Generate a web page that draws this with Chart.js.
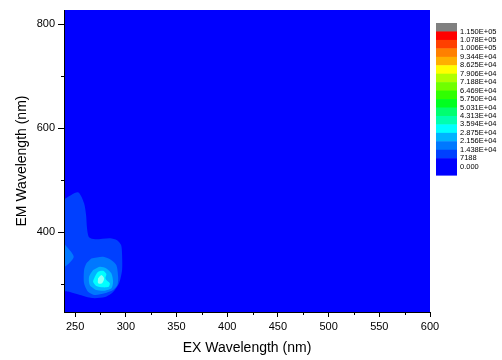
<!DOCTYPE html>
<html>
<head>
<meta charset="utf-8">
<script src="https://cdn.jsdelivr.net/npm/chart.js@4.4.1/dist/chart.umd.min.js"></script>
<style>
  html, body { margin: 0; padding: 0; background: #fff; }
</style>
</head>
<body>
<canvas id="eem" width="502" height="360"></canvas>
<script>
// axis ranges and ticks (nm)
const exRange = [239, 600];
const emRange = [247, 827];
const exTicks = [250, 275, 300, 325, 350, 375, 400, 425, 450, 475, 500, 525, 550, 575, 600];
const emTicks = [300, 400, 500, 600, 700, 800];

// contour outlines, [ex, em] pairs, outer level first
const level1 = [[239, 463.5], [252.8, 476.9], [258.8, 455.8], [260.8, 432.8], [261.7, 407.9], [263.7, 390.7],
  [269.6, 386.8], [284.5, 388.8], [291.4, 384.9], [295.4, 375.4], [296.3, 356.2], [296.3, 327.5],
  [293.4, 302.6], [287.4, 285.3], [279.5, 275.7], [266.7, 273.8], [254.8, 279.6], [244.9, 285.3], [239, 289.1]];
const level2Edge = [[239, 379.2], [248.6, 352.9], [239, 333.8]];
const level2 = [[266.0, 349.9], [277.6, 352.9], [285.8, 346.6], [290.7, 337.0], [292.4, 314.6], [291.7, 298.7],
  [287.4, 289.1], [279.2, 282.8], [269.4, 279.6], [262.7, 285.9], [258.8, 302.0], [258.8, 327.5], [261.0, 340.3]];
const level3 = [[267.7, 327.5], [274.3, 333.8], [280.8, 330.7], [285.8, 321.1], [287.4, 305.0], [285.8, 292.4],
  [279.2, 287.8], [270.9, 289.1], [264.4, 298.7], [263.7, 314.6]];
const level4 = [[269.4, 314.6], [272.6, 324.2], [277.6, 326.1], [280.8, 319.8], [279.8, 311.6], [281.8, 306.4],
  [284.2, 302.0], [283.2, 295.5], [277.6, 294.3], [270.9, 296.8], [267.7, 305.0]];
const level5 = [[272.6, 311.6], [275.9, 317.9], [278.6, 311.6], [276.6, 302.0], [272.6, 302.0]];

// colour scale labels, top to bottom
const scaleLabels = ['1.150E+05', '1.078E+05', '1.006E+05', '9.344E+04', '8.625E+04', '7.906E+04', '7.188E+04',
  '6.469E+04', '5.750E+04', '5.031E+04', '4.313E+04', '3.594E+04', '2.875E+04', '2.156E+04', '1.438E+04',
  '7188', '0.000'];
const scaleColors = ['#808080', '#FF0000', '#FF4000', '#FF8000', '#FFB000', '#FFFF00', '#B0FF00', '#70FF00',
  '#30FF00', '#00FF20', '#00FF70', '#00FFB0', '#00FFFF', '#00B4FF', '#0078FF', '#0040FF', '#0000FF', '#0000FF'];

const baseColor = '#0000FF';
const contours = [
  { pts: level1, color: '#0040FF' },
  { pts: level2Edge, color: '#0078FF' },
  { pts: level2, color: '#0078FF' },
  { pts: level3, color: '#00B4FF' },
  { pts: level4, color: '#00FFFF' },
  { pts: level5, color: '#8CFFF5' }
];

const font = "'Liberation Sans', Arial, sans-serif";

const eemPlugin = {
  id: 'eem',
  beforeDraw(chart) {
    const { ctx, chartArea: a } = chart;
    ctx.save();
    ctx.fillStyle = baseColor;
    ctx.fillRect(a.left, a.top, a.right - a.left, a.bottom - a.top);
    ctx.restore();
  },
  afterDraw(chart) {
    const { ctx } = chart;
    const xs = chart.scales.x, ys = chart.scales.y;
    ctx.save();
    // minor ticks
    ctx.strokeStyle = '#000';
    ctx.lineWidth = 1;
    ctx.beginPath();
    exTicks.filter(v => v % 50).forEach(v => {
      const px = Math.round(xs.getPixelForValue(v)) + 0.5;
      ctx.moveTo(px, ys.bottom);
      ctx.lineTo(px, ys.bottom + 3);
    });
    emTicks.filter(v => v % 200).forEach(v => {
      const py = Math.round(ys.getPixelForValue(v)) + 0.5;
      ctx.moveTo(xs.left, py);
      ctx.lineTo(xs.left - 3, py);
    });
    ctx.stroke();

    // colour bar
    const left = 436, width = 21, top = 23, h = 8.45;
    scaleColors.forEach((c, i) => {
      ctx.fillStyle = c;
      ctx.fillRect(left, top + i * h, width, h + 0.5);
    });
    ctx.fillStyle = '#000';
    ctx.font = '7.5px ' + font;
    ctx.textBaseline = 'middle';
    ctx.textAlign = 'left';
    scaleLabels.forEach((t, i) => {
      ctx.fillText(t, 460, top + (i + 1) * h);
    });
    ctx.restore();
  }
};

const chart = new Chart(document.getElementById('eem'), {
  type: 'scatter',
  data: {
    datasets: contours.map((c, i) => ({
      data: c.pts.concat([c.pts[0]]).map(p => ({ x: p[0], y: p[1] })),
      showLine: true,
      fill: 'shape',
      backgroundColor: c.color,
      borderColor: c.color,
      borderWidth: 0,
      pointRadius: 0,
      tension: 0.25,
      order: contours.length - i
    }))
  },
  options: {
    responsive: false,
    animation: false,
    layout: { padding: { top: 10, right: 72, left: 0, bottom: 0 } },
    plugins: { legend: { display: false }, tooltip: { enabled: false } },
    scales: {
      x: {
        type: 'linear',
        min: exRange[0],
        max: exRange[1],
        afterBuildTicks: s => { s.ticks = exTicks.map(v => ({ value: v })); },
        afterFit: s => { s.height = 48; },
        ticks: {
          autoSkip: false,
          maxRotation: 0,
          padding: 3,
          color: '#000',
          font: { family: font, size: 11 },
          callback: v => (v % 50 ? '' : String(v))
        },
        grid: {
          drawOnChartArea: false,
          tickLength: 5,
          tickColor: c => (c.tick && c.tick.value % 50 ? 'rgba(0,0,0,0)' : '#000')
        },
        border: { display: true, color: '#000', width: 1, z: 1 },
        title: {
          display: true,
          text: 'EX Wavelength (nm)',
          color: '#000',
          font: { family: font, size: 14 },
          padding: { top: 0, bottom: 3 }
        }
      },
      y: {
        type: 'linear',
        min: emRange[0],
        max: emRange[1],
        afterBuildTicks: s => { s.ticks = emTicks.map(v => ({ value: v })); },
        afterFit: s => { s.width = 64; },
        ticks: {
          autoSkip: false,
          padding: 3,
          color: '#000',
          font: { family: font, size: 11 },
          callback: v => (v % 200 ? '' : String(v))
        },
        grid: {
          drawOnChartArea: false,
          tickLength: 6,
          tickColor: c => (c.tick && c.tick.value % 200 ? 'rgba(0,0,0,0)' : '#000')
        },
        border: { display: true, color: '#000', width: 1, z: 1 },
        title: {
          display: true,
          text: 'EM Wavelength (nm)',
          color: '#000',
          font: { family: font, size: 14 },
          padding: { top: 14, bottom: 0 }
        }
      }
    }
  },
  plugins: [eemPlugin]
});
</script>
</body>
</html>
